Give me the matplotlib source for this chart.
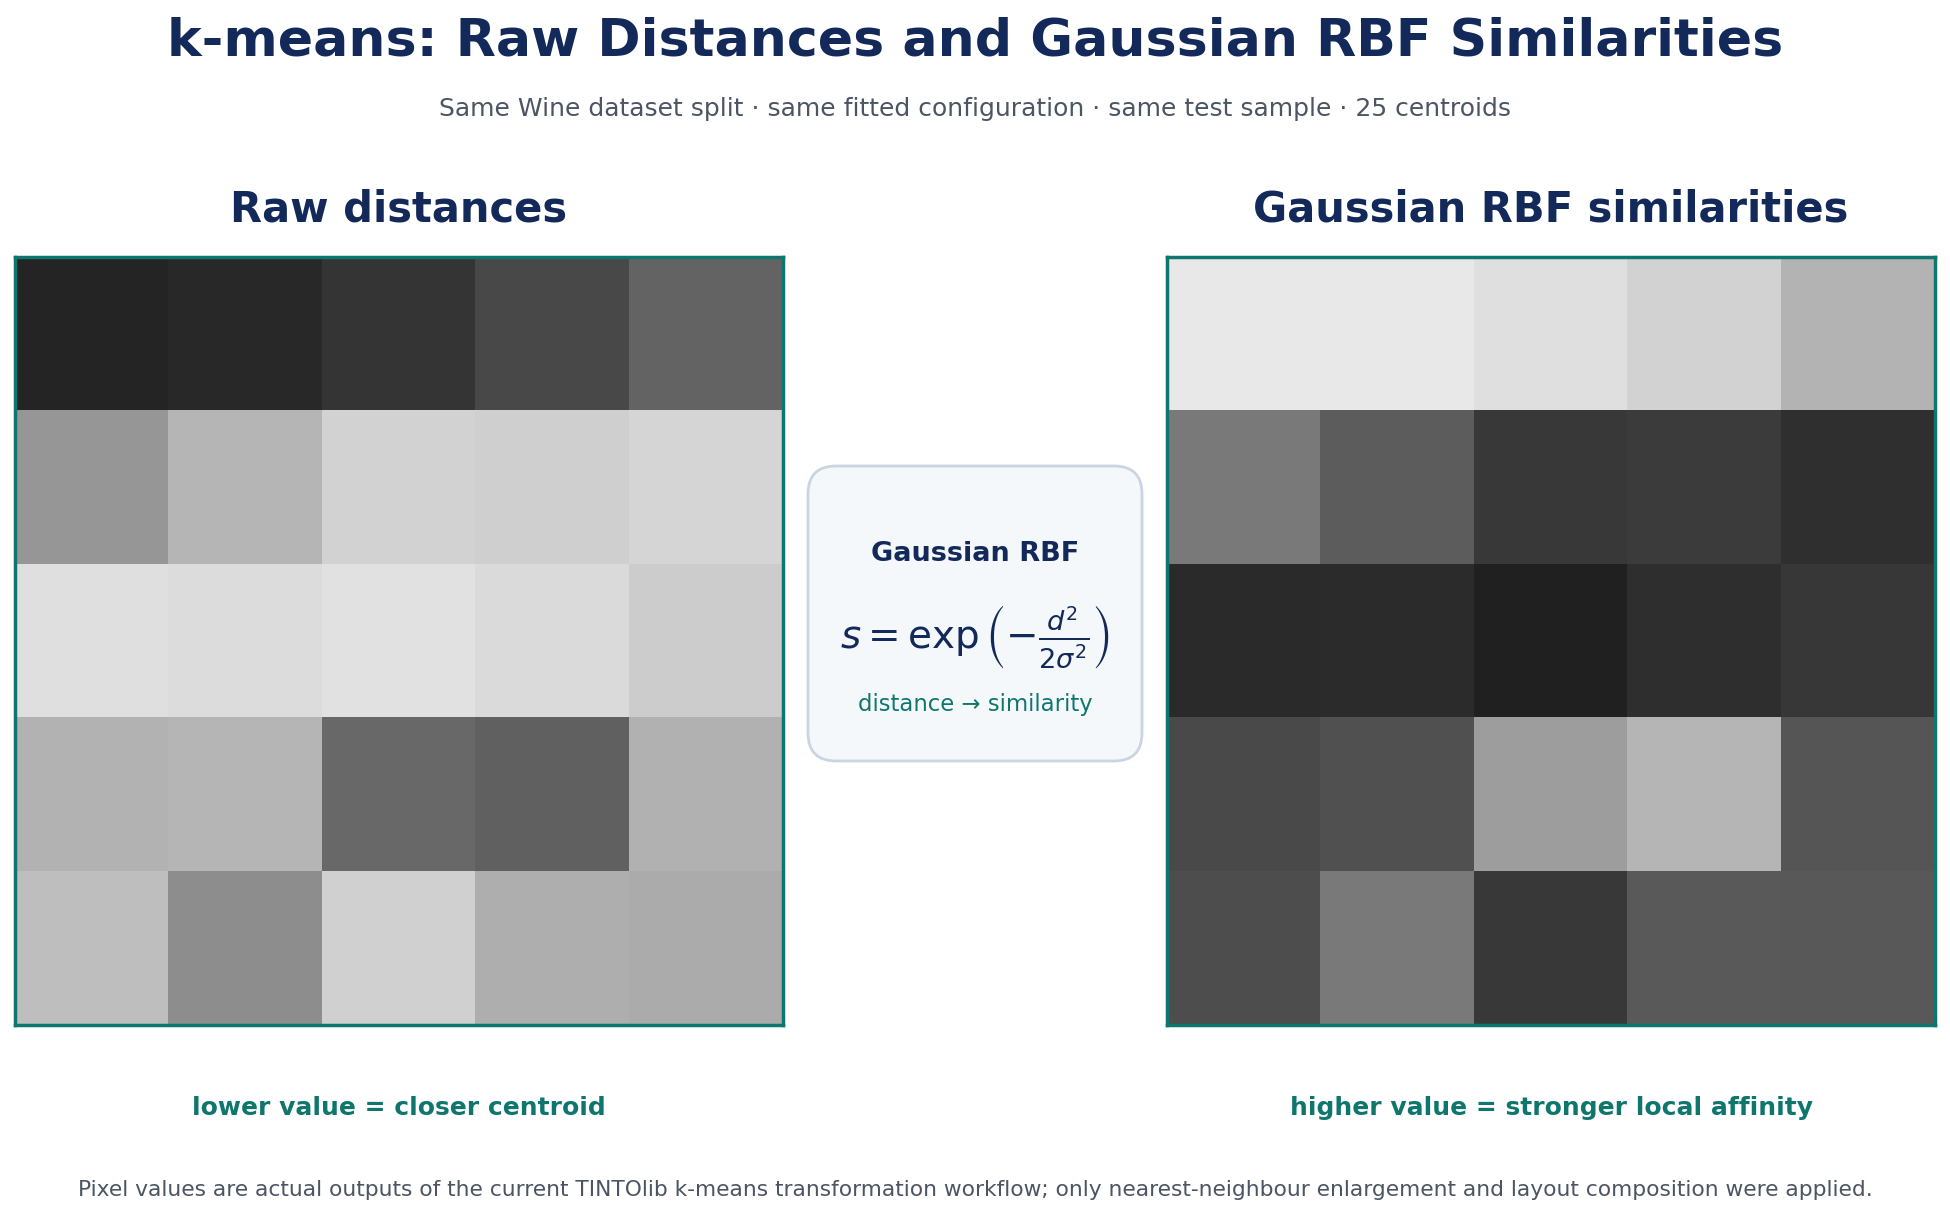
import numpy as np
import matplotlib
matplotlib.use("Agg")
import matplotlib.pyplot as plt
from matplotlib.patches import FancyBboxPatch

# pixel intensities (0-255), 5x5 each
raw_dist = [
    [0x25, 0x28, 0x35, 0x48, 0x63],
    [0x96, 0xb5, 0xd2, 0xcf, 0xd5],
    [0xdf, 0xdc, 0xe1, 0xda, 0xcc],
    [0xb2, 0xb5, 0x68, 0x60, 0xb1],
    [0xbe, 0x8d, 0xd0, 0xae, 0xab],
]
rbf_sim = [
    [0xe8, 0xe8, 0xdf, 0xd2, 0xb4],
    [0x79, 0x5c, 0x39, 0x3b, 0x2f],
    [0x2a, 0x2b, 0x20, 0x2e, 0x37],
    [0x49, 0x50, 0x9d, 0xb5, 0x55],
    [0x4d, 0x79, 0x39, 0x59, 0x58],
]
panel_titles = ["Raw distances", "Gaussian RBF similarities"]
panel_notes = ["lower value = closer centroid", "higher value = stronger local affinity"]

NAVY = "#12295a"
TEAL = "#0f766e"
GREY = "#4b5563"

W, H = 1950, 1212
fig = plt.figure(figsize=(W / 100, H / 100), dpi=100)

# overlay in pixel coordinates for text and the middle box
ov = fig.add_axes([0, 0, 1, 1])
ov.set_xlim(0, W)
ov.set_ylim(H, 0)
ov.axis("off")

ov.text(W / 2, 41, "k-means: Raw Distances and Gaussian RBF Similarities",
        ha="center", va="center", fontsize=37.5, fontweight="bold", color=NAVY)
ov.text(W / 2, 109, "Same Wine dataset split · same fitted configuration · same test sample · 25 centroids",
        ha="center", va="center", fontsize=18, color=GREY)

size = 768
lefts = [15, 1167]
top = 257
for i, (data, title, note) in enumerate(zip([raw_dist, rbf_sim], panel_titles, panel_notes)):
    ax = fig.add_axes([lefts[i] / W, 1 - (top + size) / H, size / W, size / H])
    ax.imshow(np.array(data), cmap="gray", vmin=0, vmax=255, interpolation="nearest", aspect="auto")
    ax.set_xticks([])
    ax.set_yticks([])
    for sp in ax.spines.values():
        sp.set_color(TEAL)
        sp.set_linewidth(2.5)
    cx = lefts[i] + size / 2
    ov.text(cx, 209, title, ha="center", va="center", fontsize=30, fontweight="bold", color=NAVY)
    ov.text(cx, 1108, note, ha="center", va="center", fontsize=18, fontweight="bold", color=TEAL)

box = FancyBboxPatch((808, 466), 334, 295, boxstyle="round,pad=0,rounding_size=28",
                     facecolor="#f5f8fb", edgecolor="#cbd5e1", linewidth=2)
ov.add_patch(box)
bx = 975
ov.text(bx, 554, "Gaussian RBF", ha="center", va="center", fontsize=19.5, fontweight="bold", color=NAVY)
ov.text(bx, 637, r"$s = \exp\left(-\frac{d^2}{2\sigma^2}\right)$", ha="center", va="center",
        fontsize=28, color=NAVY)
ov.text(bx, 704, "distance → similarity", ha="center", va="center", fontsize=16.4, color=TEAL)

ov.text(W / 2, 1190, "Pixel values are actual outputs of the current TINTOlib k-means transformation workflow; "
        "only nearest-neighbour enlargement and layout composition were applied.",
        ha="center", va="center", fontsize=15.7, color=GREY)

fig.savefig("out.png", dpi=100, facecolor="white")
